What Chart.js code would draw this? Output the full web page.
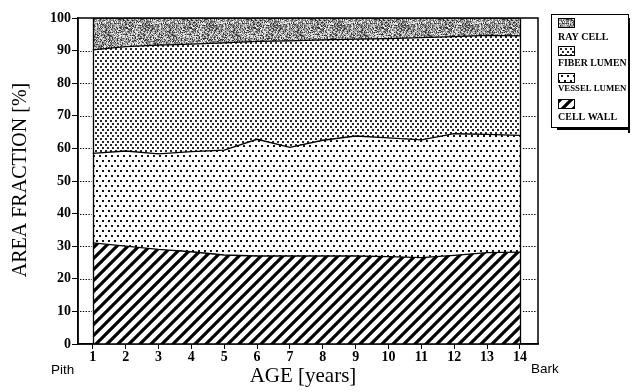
<!DOCTYPE html>
<html>
<head>
<meta charset="utf-8">
<script src="https://cdn.jsdelivr.net/npm/chart.js@4.4.1/dist/chart.umd.min.js"></script>
<style>
  html, body { margin: 0; padding: 0; background: #fff; }
  #wrap { width: 642px; height: 391px; position: relative; }
</style>
</head>
<body>
<div id="wrap"><canvas id="c" width="642" height="391"></canvas></div>
<script>
// ---------- data ----------
const ages = [1, 2, 3, 4, 5, 6, 7, 8, 9, 10, 11, 12, 13, 14];
const cellWall    = [31.0, 30.0, 29.0, 28.3, 27.3, 27.0, 27.0, 27.0, 27.0, 26.8, 26.5, 27.2, 28.0, 28.2];
const vesselLumen = [27.5, 29.2, 29.3, 30.7, 32.2, 35.8, 33.3, 35.5, 36.8, 36.4, 36.1, 37.3, 36.3, 35.8];
const fiberLumen  = [31.7, 32.0, 33.4, 33.0, 32.9, 30.0, 32.7, 30.8, 29.7, 30.5, 31.4, 29.8, 30.4, 30.5];
const rayCell     = [9.8, 8.8, 8.3, 8.0, 7.6, 7.2, 7.0, 6.7, 6.5, 6.3, 6.0, 5.7, 5.3, 5.5];
const yTicks = [0, 10, 20, 30, 40, 50, 60, 70, 80, 90, 100];
const legendNames = ['RAY CELL', 'FIBER LUMEN', 'VESSEL LUMEN', 'CELL WALL'];
const xTitle = 'AGE [years]';
const yTitle = 'AREA FRACTION [%]';
const leftEndLabel = 'Pith';
const rightEndLabel = 'Bark';

// ---------- fill patterns ----------
function tile(w, h, draw) {
  const c = document.createElement('canvas');
  c.width = w; c.height = h;
  const g = c.getContext('2d');
  g.fillStyle = '#fff'; g.fillRect(0, 0, w, h);
  draw(g, w, h);
  return c;
}
function hash(x, y) {
  let n = (Math.imul(x, 374761393) + Math.imul(y, 668265263)) | 0;
  n = Math.imul(n ^ (n >>> 13), 1274126177);
  n = n ^ (n >>> 16);
  return n >>> 0;
}
const ctx0 = document.getElementById('c').getContext('2d');
const hatchTile = tile(11, 11, (g, w, h) => {
  g.strokeStyle = '#000'; g.lineWidth = 3.2; g.lineCap = 'square';
  for (const k of [-11, 0, 11]) { g.beginPath(); g.moveTo(k, h); g.lineTo(k + w, 0); g.stroke(); }
});
const vesselTile = tile(12, 10, (g) => {
  g.fillStyle = '#111';
  [[0,0],[6,0],[3,5],[9,5]].forEach(p => g.fillRect(p[0], p[1], 2, 2));
});
const fiberTile = tile(10, 6, (g) => {
  g.fillStyle = '#2a2a2a';
  [[0,0],[5,0],[2,3],[7,3]].forEach(p => g.fillRect(p[0], p[1], 2, 2));
});
const rayTile = tile(64, 64, (g, w, h) => {
  const levels = ['#333', '#666', '#8a8a8a', '#aaa', '#ccc', '#eee'];
  for (let y = 0; y < h; y++) for (let x = 0; x < w; x++) {
    g.fillStyle = levels[hash(x, y) % levels.length];
    g.fillRect(x, y, 1, 1);
  }
});
const hatch = ctx0.createPattern(hatchTile, 'repeat');
const vesselPat = ctx0.createPattern(vesselTile, 'repeat');
const fiberPat = ctx0.createPattern(fiberTile, 'repeat');
const rayPat = ctx0.createPattern(rayTile, 'repeat');

const pts = arr => arr.map((v, i) => ({ x: ages[i], y: v }));
const SERIF = '"Liberation Serif", "DejaVu Serif", serif';
const SANS = '"Liberation Sans", Arial, sans-serif';

// ---------- decorations plugin ----------
const deco = {
  id: 'deco',
  afterDraw(chart) {
    const { ctx, chartArea: a, scales } = chart;
    const xs = scales.x, ys = scales.y;
    ctx.save();
    // vertical edges of the stacked area
    ctx.strokeStyle = '#000'; ctx.lineWidth = 1.3;
    [ages[0], ages[ages.length - 1]].forEach(v => {
      const px = Math.round(xs.getPixelForValue(v)) + 0.5;
      ctx.beginPath(); ctx.moveTo(px, ys.getPixelForValue(0)); ctx.lineTo(px, ys.getPixelForValue(100)); ctx.stroke();
    });
    // frame
    ctx.lineWidth = 1.5;
    ctx.strokeRect(a.left, a.top, a.right - a.left, a.bottom - a.top);
    // dotted inner ticks
    ctx.lineWidth = 1.2; ctx.setLineDash([1.4, 1.4]);
    const x1 = xs.getPixelForValue(ages[0]);
    const x14 = xs.getPixelForValue(ages[ages.length - 1]);
    yTicks.slice(1, -1).forEach(v => {
      const py = Math.round(ys.getPixelForValue(v)) + 0.5;
      ctx.beginPath(); ctx.moveTo(a.left + 2, py); ctx.lineTo(x1 - 1, py); ctx.stroke();
      ctx.beginPath(); ctx.moveTo(x14 + 3, py); ctx.lineTo(a.right - 1, py); ctx.stroke();
    });
    ctx.setLineDash([]);
    // titles
    ctx.fillStyle = '#000';
    ctx.font = '21px ' + SERIF;
    ctx.textAlign = 'center'; ctx.textBaseline = 'middle';
    ctx.fillText(xTitle, 303, 376);
    ctx.save();
    ctx.translate(21, 180); ctx.rotate(-Math.PI / 2);
    ctx.font = '20px ' + SERIF;
    ctx.fillText(yTitle, 0, 0);
    ctx.restore();
    ctx.font = '13.5px ' + SANS;
    ctx.textAlign = 'left';
    ctx.fillText(leftEndLabel, 51, 370);
    ctx.fillText(rightEndLabel, 531, 369);
    // legend
    const L = { x: 551, y: 14, w: 77, h: 113 };
    ctx.fillStyle = '#000';
    ctx.fillRect(L.x + 6, L.y + L.h, L.w - 5, 3);
    ctx.fillRect(L.x + L.w, L.y + 4, 2, L.h + 2);
    ctx.fillStyle = '#fff'; ctx.fillRect(L.x, L.y, L.w, L.h);
    ctx.strokeStyle = '#000'; ctx.lineWidth = 1;
    ctx.strokeRect(L.x + 0.5, L.y + 0.5, L.w, L.h);
    const pats = [rayPat, fiberPat, vesselPat, hatch];
    const swY = [18, 46, 73, 99];
    const lbY = [37, 63, 89, 117];
    ctx.textBaseline = 'middle'; ctx.textAlign = 'left';
    for (let i = 0; i < 4; i++) {
      ctx.fillStyle = pats[i];
      ctx.fillRect(558, swY[i], 16, 9);
      ctx.strokeStyle = '#000'; ctx.lineWidth = 1;
      ctx.strokeRect(558.5, swY[i] + 0.5, 16, 9);
      ctx.fillStyle = '#000';
      let size = 10;
      ctx.font = 'bold ' + size + 'px ' + SERIF;
      while (ctx.measureText(legendNames[i]).width > 69 && size > 7) {
        size -= 0.25; ctx.font = 'bold ' + size + 'px ' + SERIF;
      }
      ctx.fillText(legendNames[i], 558, lbY[i]);
    }
    ctx.restore();
  }
};

new Chart(document.getElementById('c'), {
  type: 'line',
  data: {
    datasets: [
      { label: legendNames[3], data: pts(cellWall), backgroundColor: hatch, fill: 'origin' },
      { label: legendNames[2], data: pts(vesselLumen), backgroundColor: vesselPat, fill: '-1' },
      { label: legendNames[1], data: pts(fiberLumen), backgroundColor: fiberPat, fill: '-1' },
      { label: legendNames[0], data: pts(rayCell), backgroundColor: rayPat, fill: '-1' }
    ].map(d => Object.assign(d, { borderColor: '#000', borderWidth: 1.3, pointRadius: 0, tension: 0 }))
  },
  options: {
    responsive: false,
    animation: false,
    devicePixelRatio: 1,
    layout: { padding: { top: 18, right: 104, bottom: 0, left: 0 } },
    plugins: { legend: { display: false }, tooltip: { enabled: false } },
    scales: {
      x: {
        type: 'linear', min: 0.55, max: 14.55,
        afterBuildTicks: s => { s.ticks = ages.map(v => ({ value: v })); },
        afterFit: s => { s.height = 47; },
        ticks: { font: { family: SERIF, weight: 'bold', size: 14 }, color: '#000', padding: 0, maxRotation: 0, autoSkip: false },
        grid: { drawOnChartArea: false, drawTicks: true, tickLength: 5, color: '#000', lineWidth: 1 },
        border: { display: true, color: '#000', width: 1.5 }
      },
      y: {
        stacked: true, min: 0, max: 100,
        afterBuildTicks: s => { s.ticks = yTicks.map(v => ({ value: v })); },
        afterFit: s => { s.width = 78; },
        ticks: { font: { family: SERIF, weight: 'bold', size: 14 }, color: '#000', padding: 1 },
        grid: { drawOnChartArea: false, drawTicks: true, tickLength: 6, color: '#000', lineWidth: 1 },
        border: { display: true, color: '#000', width: 1.5 }
      }
    }
  },
  plugins: [deco]
});
</script>
</body>
</html>
